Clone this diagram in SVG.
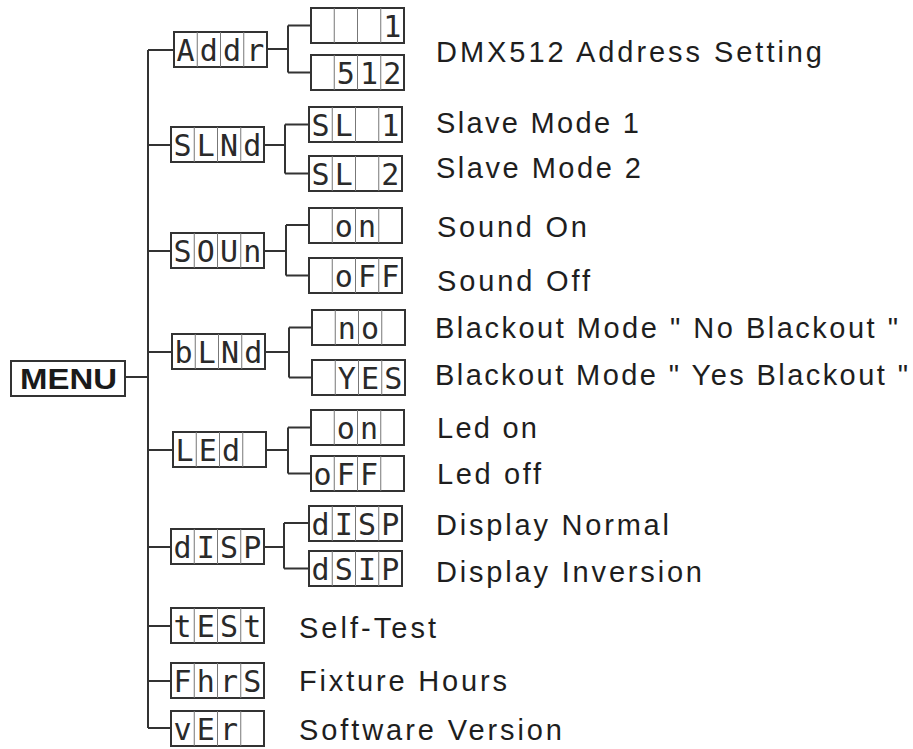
<svg xmlns="http://www.w3.org/2000/svg" xmlns:xlink="http://www.w3.org/1999/xlink" width="913" height="749" viewBox="0 0 913 749">
<style>
.bx{fill:none;stroke:#333;stroke-width:2}
.dv{stroke:#777;stroke-width:1}
.cn{fill:none;stroke:#333;stroke-width:2}
.sg{font-family:"DejaVu Sans Mono","Liberation Mono",monospace;font-size:30px;fill:#2a2a2a;text-anchor:middle}
.lb{font-family:"Liberation Sans",Arial,sans-serif;font-size:29px;fill:#1e1e1e}
.mn{font-family:"Liberation Sans",Arial,sans-serif;font-size:30px;font-weight:bold;fill:#1a1a1a}
</style>
<defs>
<g id="disp">
<rect class="bx" x="0" y="0" width="93" height="35"/>
<line class="dv" x1="23.25" y1="0" x2="23.25" y2="35"/>
<line class="dv" x1="46.5" y1="0" x2="46.5" y2="35"/>
<line class="dv" x1="69.75" y1="0" x2="69.75" y2="35"/>
</g>
</defs>
<rect width="913" height="749" fill="#fff"/>

<g id="connectors">
<path class="cn" d="M125 377H148M148 50V728"/>
<path class="cn" d="M148 50H174M148 145H171M148 251H171M148 352H172M148 450H173M148 547H171M148 626H171M148 681H171M148 728H171"/>
<path class="cn" d="M267 49H288M288 25.5V72.5M288 25.5H311M288 72.5H311"/>
<path class="cn" d="M264 145H285M285 124.5V173.5M285 124.5H309M285 173.5H309"/>
<path class="cn" d="M264 251H286M286 225V275.5M286 225H309M286 275.5H309"/>
<path class="cn" d="M265 352H289M289 327.5V377.5M289 327.5H312M289 377.5H312"/>
<path class="cn" d="M266 450H288M288 427.5V473.5M288 427.5H311M288 473.5H311"/>
<path class="cn" d="M264 547H284M284 523V568.5M284 523H309M284 568.5H309"/>
</g>

<g id="menu">
<rect class="bx" x="11" y="361" width="114" height="35"/>
<text class="mn" x="20" y="389" textLength="97" lengthAdjust="spacingAndGlyphs">MENU</text>
</g>

<g id="addr">
<use xlink:href="#disp" x="174" y="32"/>
<text class="sg" x="185.6 208.9 232.1 255.4" y="61">Addr</text>
</g>
<g id="addr-1">
<use xlink:href="#disp" x="311" y="8"/>
<text class="sg" x="392.4" y="37">1</text>
<text class="lb" x="436" y="62" textLength="386" lengthAdjust="spacing">DMX512 Address Setting</text>
</g>
<g id="addr-512">
<use xlink:href="#disp" x="311" y="55"/>
<text class="sg" x="345.9 369.1 392.4" y="84">512</text>
</g>

<g id="slnd">
<use xlink:href="#disp" x="171" y="127"/>
<text class="sg" x="182.6 205.9 229.1 252.4" y="156">SLNd</text>
</g>
<g id="sl1">
<use xlink:href="#disp" x="309" y="107"/>
<text class="sg" x="320.6 343.9 390.4" y="136">SL1</text>
<text class="lb" x="436" y="133" textLength="203" lengthAdjust="spacing">Slave Mode 1</text>
</g>
<g id="sl2">
<use xlink:href="#disp" x="309" y="156"/>
<text class="sg" x="320.6 343.9 390.4" y="185">SL2</text>
<text class="lb" x="436" y="178" textLength="205" lengthAdjust="spacing">Slave Mode 2</text>
</g>

<g id="soun">
<use xlink:href="#disp" x="171" y="233"/>
<text class="sg" x="182.6 205.9 229.1 252.4" y="262">SOUn</text>
</g>
<g id="sound-on">
<use xlink:href="#disp" x="309" y="208"/>
<text class="sg" x="343.9 367.1" y="237">on</text>
<text class="lb" x="437" y="237" textLength="150" lengthAdjust="spacing">Sound On</text>
</g>
<g id="sound-off">
<use xlink:href="#disp" x="309" y="258"/>
<text class="sg" x="343.9 367.1 390.4" y="287">oFF</text>
<text class="lb" x="437" y="291" textLength="153" lengthAdjust="spacing">Sound Off</text>
</g>

<g id="blnd">
<use xlink:href="#disp" x="172" y="334"/>
<text class="sg" x="183.6 206.9 230.1 253.4" y="363">bLNd</text>
</g>
<g id="black-no">
<use xlink:href="#disp" x="312" y="310"/>
<text class="sg" x="346.9 370.1" y="339">no</text>
<text class="lb" x="435" y="338" textLength="463" lengthAdjust="spacing">Blackout Mode " No Blackout "</text>
</g>
<g id="black-yes">
<use xlink:href="#disp" x="312" y="360"/>
<text class="sg" x="346.9 370.1 393.4" y="389">YES</text>
<text class="lb" x="435" y="385" textLength="473" lengthAdjust="spacing">Blackout Mode " Yes Blackout "</text>
</g>

<g id="led">
<use xlink:href="#disp" x="173" y="432"/>
<text class="sg" x="184.6 207.9 231.1" y="461">LEd</text>
</g>
<g id="led-on">
<use xlink:href="#disp" x="311" y="410"/>
<text class="sg" x="345.9 369.1" y="439">on</text>
<text class="lb" x="437" y="438" textLength="100" lengthAdjust="spacing">Led on</text>
</g>
<g id="led-off">
<use xlink:href="#disp" x="311" y="456"/>
<text class="sg" x="322.6 345.9 369.1" y="485">oFF</text>
<text class="lb" x="437" y="484" textLength="104" lengthAdjust="spacing">Led off</text>
</g>

<g id="disp-menu">
<use xlink:href="#disp" x="171" y="529"/>
<text class="sg" x="182.6 205.9 229.1 252.4" y="558">dISP</text>
</g>
<g id="disp-normal">
<use xlink:href="#disp" x="309" y="506"/>
<text class="sg" x="320.6 343.9 367.1 390.4" y="535">dISP</text>
<text class="lb" x="436" y="535" textLength="233" lengthAdjust="spacing">Display Normal</text>
</g>
<g id="disp-inv">
<use xlink:href="#disp" x="309" y="551"/>
<text class="sg" x="320.6 343.9 367.1 390.4" y="580">dSIP</text>
<text class="lb" x="436" y="582" textLength="266" lengthAdjust="spacing">Display Inversion</text>
</g>

<g id="test">
<use xlink:href="#disp" x="171" y="608"/>
<text class="sg" x="182.6 205.9 229.1 252.4" y="637">tESt</text>
<text class="lb" x="299" y="638" textLength="137" lengthAdjust="spacing">Self-Test</text>
</g>
<g id="fhrs">
<use xlink:href="#disp" x="171" y="663"/>
<text class="sg" x="182.6 205.9 229.1 252.4" y="692">FhrS</text>
<text class="lb" x="299" y="691" textLength="208" lengthAdjust="spacing">Fixture Hours</text>
</g>
<g id="ver">
<use xlink:href="#disp" x="171" y="711"/>
<text class="sg" x="182.6 205.9 229.1" y="740">vEr</text>
<text class="lb" x="299" y="740" textLength="263" lengthAdjust="spacing">Software Version</text>
</g>
</svg>
